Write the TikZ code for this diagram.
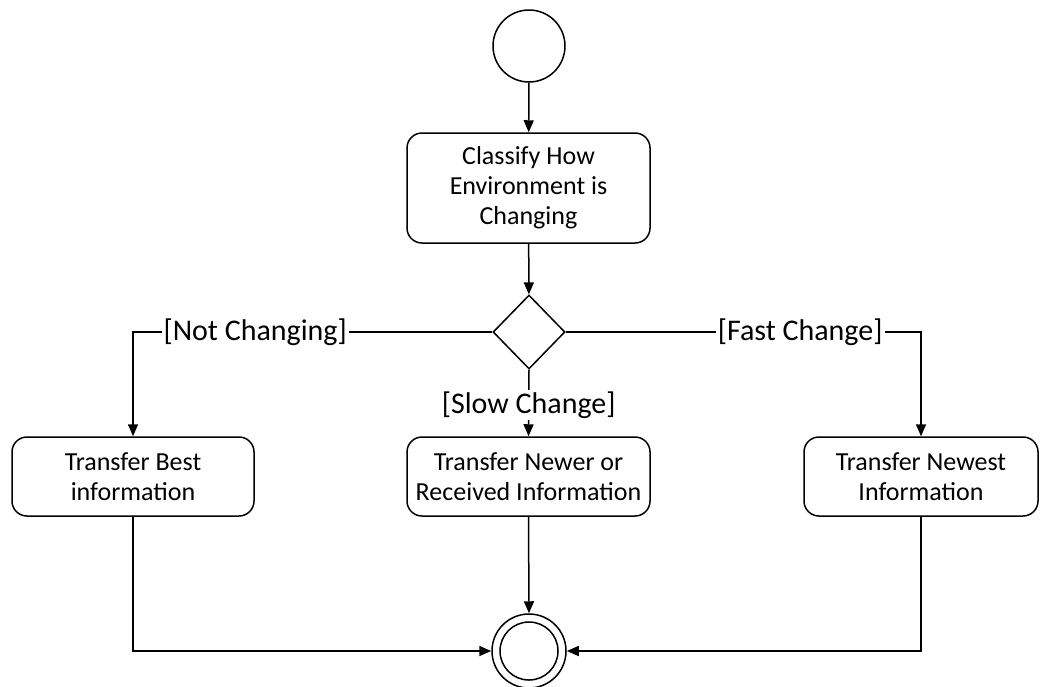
\documentclass[tikz,border=0pt]{standalone}
\usepackage{fontspec}
\setmainfont{Carlito}
\usetikzlibrary{arrows.meta,shapes.geometric}

\begin{document}
\begin{tikzpicture}[x=1pt,y=-1pt,
  line width=1.5pt,
  actbox/.style={draw, rounded corners=15pt, align=center,
    font=\fontsize{26}{30}\selectfont, inner sep=0pt},
  flow/.style={-{Triangle[length=12pt,width=10pt]}},
  guard/.style={fill=white, inner sep=2pt, font=\fontsize{30}{36}\selectfont},
]
\useasboundingbox (0,0) rectangle (1040,686);

% initial node
\node[draw, circle, minimum size=72pt, inner sep=0pt] (start) at (529,46) {};

% classification activity
\node[actbox, minimum width=243pt, minimum height=110pt] (classify) at (528.5,188)
  {Classify How\\Environment is\\Changing};

% decision node
\node[draw, diamond, minimum width=72pt, minimum height=74pt, inner sep=0pt] (dec) at (529,332) {};

% transfer activities
\node[actbox, minimum width=242pt, minimum height=79pt] (best) at (133,476.5)
  {Transfer Best\\information};
\node[actbox, minimum width=243pt, minimum height=79pt] (newer) at (528.5,476.5)
  {Transfer Newer or\\Received Information};
\node[actbox, minimum width=234pt, minimum height=79pt] (newest) at (921,476.5)
  {Transfer Newest\\Information};

% final node
\node[draw, circle, minimum size=74pt, inner sep=0pt] (fin) at (529,651) {};
\draw (fin.center) circle[radius=29pt];

% control flows
\draw[flow] (start) -- (classify);
\draw[flow] (classify) -- (dec);
\draw[flow] (dec.west) -| node[guard, pos=0.33] {[Not Changing]} (best.north);
\draw[flow] (dec.south) -- node[guard, pos=0.53] {[Slow Change]} (newer.north);
\draw[flow] (dec.east) -| node[guard, pos=0.33] {[Fast Change]} (newest.north);
\draw[flow] (best.south) |- (fin.west);
\draw[flow] (newer.south) -- (fin.north);
\draw[flow] (newest.south) |- (fin.east);
\end{tikzpicture}
\end{document}
